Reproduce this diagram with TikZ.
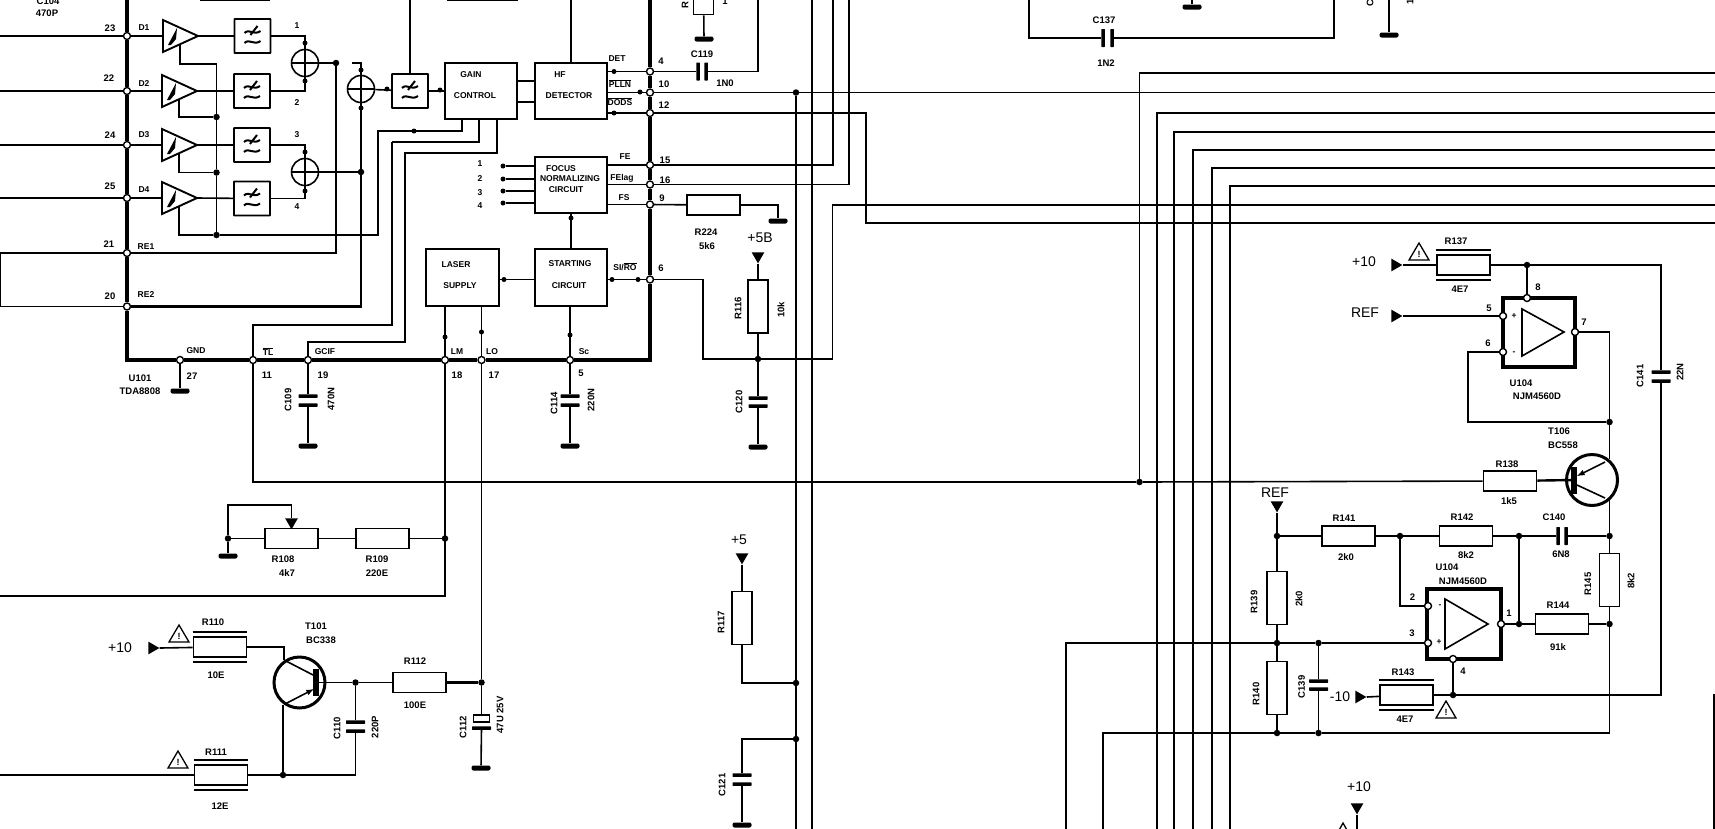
\documentclass[tikz,border=0pt]{standalone}
\usepackage{fontspec}
\setmainfont{Liberation Sans}
\usetikzlibrary{shapes.geometric}
\tikzset{
  wire/.style={line width=1.6pt},
  heavy/.style={line width=2.4pt},
  bus/.style={line width=4pt},
  pad/.style={circle, draw, fill=white, line width=1.4pt, minimum size=7pt, inner sep=0pt},
  jn/.style={circle, fill, minimum size=6.5pt, inner sep=0pt},
  tick/.style={circle, fill, minimum size=5pt, inner sep=0pt},
  res/.style={draw, line width=1.6pt, minimum width=53pt, minimum height=20pt, inner sep=0pt},
  resv/.style={draw, line width=1.6pt, minimum width=20pt, minimum height=53pt, inner sep=0pt},
  plh/.style={fill, rounded corners=.5pt, minimum width=19pt, minimum height=3.5pt, inner sep=0pt},
  plv/.style={fill, rounded corners=.5pt, minimum width=3.5pt, minimum height=18pt, inner sep=0pt},
  gnd/.style={fill, rounded corners=2pt, minimum width=19pt, minimum height=5pt, inner sep=0pt},
  block/.style={draw, line width=1.8pt, minimum width=72pt, minimum height=56pt, inner sep=0pt},
  opbox/.style={draw, line width=3.6pt, inner sep=0pt},
  sum/.style={circle, draw, line width=1.6pt, minimum size=27pt, inner sep=0pt,
    path picture={\draw[line width=1.6pt]
      (path picture bounding box.north) -- (path picture bounding box.south)
      (path picture bounding box.west) -- (path picture bounding box.east);}},
  tr/.style={circle, draw, line width=3pt, minimum size=51pt, inner sep=0pt},
  tbar/.style={fill, minimum width=6pt, minimum height=27pt, inner sep=0pt},
  tdown/.style={isosceles triangle, isosceles triangle apex angle=60, shape border rotate=-90, fill, minimum size=11pt, inner sep=0pt},
  tright/.style={isosceles triangle, isosceles triangle apex angle=60, shape border rotate=0, fill, minimum size=11pt, inner sep=0pt},
  lab/.style={inner sep=0pt, font=\fontsize{9.5}{10}\selectfont\bfseries},
  sml/.style={inner sep=0pt, font=\fontsize{8.5}{9}\selectfont\bfseries},
  big/.style={inner sep=0pt, font=\fontsize{14}{15}\selectfont},
  lv/.style={lab, rotate=90},
  amp/.pic={
    \draw[line width=1.9pt] (-17,-16) -- (-17,16) -- (18,0) -- cycle;
    \fill (-12,9) -- (-3,-8) -- (-4,3) -- (-9,9) -- cycle;
    \coordinate (-in) at (-17,0);
    \coordinate (-out) at (18,0);
    \coordinate (-bias) at (0,8);
  },
  filt/.pic={
    \node[draw, line width=1.8pt, rounded corners=.5pt, minimum width=36pt, minimum height=34pt, inner sep=0pt] (-box) at (0,0) {};
    \draw[line width=2pt] (-8,-3) .. controls (-3,-8) and (1,0) .. (8,-5);
    \draw[line width=2pt] (-8,7) .. controls (-3,2) and (1,10) .. (8,5);
    \draw[line width=2pt] (5,-10) -- (-2,-1);
  },
  warn/.pic={
    \draw[line width=1.3pt] (0,-9) -- (10,8) -- (-10,8) -- cycle;
    \node[inner sep=0pt, font=\fontsize{9}{9}\selectfont\bfseries] (-mark) at (0,2) {!};
  }
}
\begin{document}
\begin{tikzpicture}[x=1pt, y=-1pt]
  \useasboundingbox (0,0) rectangle (1715,828);
  \clip (0,0) rectangle (1715,828);

  % page edges
  \coordinate (le) at (-2,0);
  \coordinate (re) at (1717,0);
  \coordinate (te) at (0,-2);
  \coordinate (be) at (0,830);

  % pads of U101
  \node[pad] (p23) at (127,36) {};
  \node[pad] (p22) at (127,91) {};
  \node[pad] (p24) at (127,145) {};
  \node[pad] (p25) at (127,198) {};
  \node[pad] (p21) at (127,253) {};
  \node[pad] (p20) at (127,306.5) {};
  \node[pad] (p27) at (180,360) {};
  \node[pad] (p11) at (253,360) {};
  \node[pad] (p19) at (308,360) {};
  \node[pad] (p18) at (445,360) {};
  \node[pad] (p17) at (481.5,360) {};
  \node[pad] (p5) at (570,360) {};
  \node[pad] (p6) at (650,279.5) {};
  \node[pad] (p9) at (650,204.5) {};
  \node[pad] (p16) at (650,184.5) {};
  \node[pad] (p15) at (650,165) {};
  \node[pad] (p12) at (650,113) {};
  \node[pad] (p10) at (650,92.5) {};
  \node[pad] (p4) at (650,71.5) {};

  \coordinate (lt) at (127,-3);
  \coordinate (lb) at (127,360);
  \coordinate (rb) at (650,360);
  \coordinate (rt) at (650,-3);
  \draw[bus] (lt) -- (p23) -- (p22) -- (p24) -- (p25) -- (p21) -- (p20) -- (lb)
    -- (p27) -- (p11) -- (p19) -- (p18) -- (p17) -- (p5) -- (rb)
    -- (p6) -- (p9) -- (p16) -- (p15) -- (p12) -- (p10) -- (p4) -- (rt);

  % amplifiers and filters
  \pic (a1) at (180,36) {amp};
  \pic (a2) at (179,91) {amp};
  \pic (a3) at (179,145) {amp};
  \pic (a4) at (179,198) {amp};
  \pic (f1) at (252.5,36) {filt};
  \pic (f2) at (252,91) {filt};
  \pic (f3) at (252,145) {filt};
  \pic (f4) at (252,198.5) {filt};
  \pic (f5) at (410,91) {filt};
  \node[sum] (s1) at (305,63) {};
  \node[sum] (s3) at (305,172) {};
  \node[sum] (s2) at (361,89) {};

  \draw[heavy] (p23) -- (p23 -| le);
  \draw[wire] (p22) -- (p22 -| le);
  \draw[wire] (p24) -- (p24 -| le);
  \draw[wire] (p25) -- (p25 -| le);
  \draw[heavy] (p23) -- (a1-in);
  \draw[wire] (p22) -- (a2-in);
  \draw[wire] (p24) -- (a3-in);
  \draw[wire] (p25) -- (a4-in);
  \draw[wire] (a1-out) -- (f1-box);
  \draw[wire] (a2-out) -- (f2-box);
  \draw[heavy] (a3-out) -- (f3-box);
  \draw[wire] (a4-out) -- (f4-box);
  \draw[heavy] (f1-box) -| (s1);
  \draw[wire] (f2-box) -| (s1);
  \draw[wire] (f3-box) -| (s3);
  \draw[wire] (f4-box) -| (s3);

  \node[jn] (j2) at (216.5,117) {};
  \node[jn] (j3) at (216.5,172.5) {};
  \node[jn] (j4) at (216.5,235) {};
  \node[jn] (d1) at (336,63) {};
  \node[jn] (d2) at (361,172) {};
  \coordinate (jt) at (216.5,64);
  \coordinate (st) at (352,63);
  \coordinate (lv1) at (0.5,253);
  \coordinate (lv2) at (0.5,306.5);
  \draw[wire] (a1-bias) |- (jt) -- (j2) -- (j3) -- (j4);
  \draw[wire] (a2-bias) |- (j2);
  \draw[wire] (a3-bias) |- (j3);
  \draw[wire] (a4-bias) |- (j4);
  \draw[wire] (s1) -- (d1);
  \draw[wire] (s3) -- (d2);
  \draw[heavy] (p21) -| (d1);
  \draw[wire] (p21) -- (p21 -| le);
  \draw[heavy] (p20) -| (s2);
  \draw[wire] (p20) -- (p20 -| le);
  \draw[wire] (lv1) -- (lv2);
  \draw[wire] (st) -| (s2);

  % blocks
  \node[block] (gain) at (481,91) {};
  \node[block] (hf) at (571,91) {};
  \node[block] (focus) at (571,185) {};
  \node[block, minimum height=57pt] (start) at (571,277.5) {};
  \node[block, minimum width=73pt, minimum height=57pt] (laser) at (462.5,277.5) {};
  \coordinate (gs1) at (462,119);
  \coordinate (gs2) at (479,119);
  \coordinate (gs3) at (497,119);
  \coordinate (ca) at (378,131);
  \coordinate (cb) at (392,142);
  \coordinate (cd) at (405,153);
  \coordinate (tlt) at (253,325);
  \coordinate (gt) at (308,342);
  \draw[wire] (s2) -- (f5-box);
  \draw[wire] (f5-box) -- (gain);
  \draw[wire] (f5-box.north) -- (f5-box.north |- te);
  \draw[wire] (j4) -| (ca) -| (gs1);
  \draw[heavy] (gs2) |- (cb);
  \draw[wire] (cb) |- (tlt) -- (p11);
  \draw[wire] (gs3) |- (cd) |- (gt) -- (p19);
  \draw[wire] ([yshift=10pt]gain.east) -- ([yshift=10pt]gain.east -| hf.west);
  \draw[wire] ([yshift=-11pt]gain.east) -- ([yshift=-11pt]gain.east -| hf.west);
  \draw[wire] (hf.north) -- (hf.north |- te);
  \draw[wire] (p4) -- (p4 -| hf.east);
  \draw[wire] (p10) -- (p10 -| hf.east);
  \draw[wire] (p12) -- (p12 -| hf.east);
  \draw[wire] (p15) -- (p15 -| focus.east);
  \draw[wire] (p16) -- (p16 -| focus.east);
  \draw[wire] (p9) -- (p9 -| focus.east);
  \draw[wire] (p6) -- (p6 -| start.east);
  \draw[wire] (p6 -| start.west) -- (p6 -| laser.east);
  \draw[wire] (start) -- (focus);
  \draw[wire] (p5 |- start.south) -- (p5);
  \draw[wire] (p18 |- laser.south) -- (p18);
  \draw[wire] (p17 |- laser.south) -- (p17);

  \node[tick] (i1) at (503,166) {};
  \node[tick] (i2) at (503,179) {};
  \node[tick] (i3) at (503,191) {};
  \node[tick] (i4) at (503,203) {};
  \draw[wire] (i1) -- (i1 -| focus.west);
  \draw[wire] (i2) -- (i2 -| focus.west);
  \draw[wire] (i3) -- (i3 -| focus.west);
  \draw[wire] (i4) -- (i4 -| focus.west);

  % arrow blobs on wires
  \node[tick] (k1) at (305,43) {};
  \node[tick] (k2) at (305,81) {};
  \node[tick] (k3) at (305,152) {};
  \node[tick] (k4) at (305,191) {};
  \node[tick] (k5) at (361,70) {};
  \node[tick] (k6) at (361,108) {};
  \node[tick] (k7) at (387,89) {};
  \node[tick] (k8) at (440,90) {};
  \node[tick] (k9) at (414,131) {};
  \node[tick] (k10) at (614,71.5) {};
  \node[tick] (k11) at (640,92) {};
  \node[tick] (k12) at (614,113) {};
  \node[tick] (k13) at (612,279.5) {};
  \node[tick] (k14) at (638,279.5) {};
  \node[tick] (k15) at (504,279.5) {};
  \node[tick] (k16) at (571,218) {};
  \node[tick] (k17) at (445,337) {};
  \node[tick] (k18) at (481.5,332) {};
  \node[tick] (k19) at (570,335) {};

  % pins along the bottom
  \node[gnd] (g27) at (180,391) {};
  \node[gnd] (g109) at (308,446) {};
  \node[gnd] (g114) at (570,446) {};
  \node[plh] (c109a) at (308,396) {};
  \node[plh] (c109b) at (308,405) {};
  \node[plh] (c114a) at (570,396) {};
  \node[plh] (c114b) at (570,405) {};
  \draw[wire] (p27) -- (g27);
  \draw[wire] (p19) -- (c109a);
  \draw[wire] (c109b) -- (g109);
  \draw[wire] (p5) -- (c114a);
  \draw[wire] (c114b) -- (g114);

  % right hand side of U101
  \node[plv] (c119a) at (698,71.5) {};
  \node[plv] (c119b) at (706,71.5) {};
  \coordinate (c758) at (758,-2);
  \draw[wire] (p4) -- (c119a);
  \draw[wire] (c119b) -| (c758);
  \node[resv] (rtop) at (703.5,-12) {};
  \node[gnd] (gtop) at (704,39) {};
  \draw[wire] (rtop) -- (gtop);

  \node[jn] (d796) at (796,92.5) {};
  \node[jn] (d796a) at (796,683) {};
  \node[jn] (d796b) at (796,739) {};
  \coordinate (c812) at (812,-2);
  \coordinate (c833) at (833,-2);
  \coordinate (c849) at (849,-2);
  \coordinate (c866) at (866,223);
  \coordinate (cj) at (832.5,205);
  \draw[wire] (p10) -- (p10 -| re);
  \draw[wire] (d796) -- (d796 |- be);
  \draw[wire] (c812) -- (c812 |- be);
  \draw[wire] (p15) -| (c833);
  \draw[wire] (p16) -| (c849);
  \draw[wire] (p12) -| (c866) -- (c866 -| re);

  \node[res] (r224) at (713.5,205) {};
  \node[gnd] (g224) at (778,221) {};
  \draw[wire] (p9) -- (r224);
  \draw[wire] (r224) -| (g224);

  \node[tdown] (v58) at (758,256) {};
  \node[resv] (r116) at (758,306.5) {};
  \node[jn] (d116) at (758,359) {};
  \node[plh] (c120a) at (758,398) {};
  \node[plh] (c120b) at (758,406) {};
  \node[gnd] (g120) at (758,447) {};
  \coordinate (cc) at (703,359);
  \draw[wire] (p6) -| (cc) -- (d116);
  \draw[wire] (d116) -| (cj) -- (cj -| re);
  \draw[wire] (v58.apex) -- (r116);
  \draw[wire] (r116) -- (d116);
  \draw[wire] (d116) -- (c120a);
  \draw[wire] (c120b) -- (g120);

  % R117, C121
  \node[tdown] (v5) at (742,557) {};
  \node[resv] (r117) at (742,618) {};
  \node[plh] (c121a) at (742,775) {};
  \node[plh] (c121b) at (742,784) {};
  \node[gnd] (g121) at (742,825) {};
  \draw[wire] (v5.apex) -- (r117);
  \draw[wire] (r117) |- (d796a);
  \draw[wire] (d796b) -| (c121a);
  \draw[wire] (c121b) -- (g121);

  % C137 loop and the top of the sheet
  \coordinate (b1) at (1029,-2);
  \coordinate (b2) at (1334,-2);
  \node[plv] (c137a) at (1103,38) {};
  \node[plv] (c137b) at (1112,38) {};
  \draw[wire] (b1) |- (c137a);
  \draw[wire] (c137b) -| (b2);
  \node[gnd] (g137) at (1192,7) {};
  \coordinate (g137t) at (1192,-2);
  \draw[wire] (g137t) -- (g137);
  \node[gnd] (g138) at (1389,35) {};
  \coordinate (g138t) at (1389,-2);
  \draw[wire] (g138t) -- (g138);
  \coordinate (m1) at (200,0);
  \coordinate (m2) at (270,0);
  \coordinate (m3) at (447,0);
  \coordinate (m4) at (518,0);
  \draw[heavy] (m1) -- (m2);
  \draw[heavy] (m3) -- (m4);

  % bundle on the right
  \node[jn] (d1139) at (1139.5,482) {};
  \coordinate (w1) at (1139.5,73);
  \coordinate (w2) at (1157,113);
  \coordinate (w3) at (1174,132);
  \coordinate (w4) at (1193,150);
  \coordinate (w5) at (1212,168);
  \coordinate (w6) at (1230,186);
  \draw[wire] (d1139) -- (w1) -- (w1 -| re);
  \draw[wire] (w2 |- be) -- (w2) -- (w2 -| re);
  \draw[wire] (w3 |- be) -- (w3) -- (w3 -| re);
  \draw[wire] (w4 |- be) -- (w4) -- (w4 -| re);
  \draw[wire] (w5 |- be) -- (w5) -- (w5 -| re);
  \draw[wire] (w6 |- be) -- (w6) -- (w6 -| re);

  % R108, R109
  \node[jn] (d228) at (228,538.5) {};
  \node[jn] (d445) at (445,538.5) {};
  \node[gnd] (g108) at (228,556) {};
  \node[res] (r108) at (291.5,538.5) {};
  \node[res] (r109) at (382.5,538.5) {};
  \node[tdown] (wip) at (291.5,522) {};
  \coordinate (wa) at (291.5,505);
  \coordinate (lg) at (-2,596);
  \draw[wire] (p18) |- (lg);
  \draw[wire] (d228) -- (g108);
  \draw[wire] (d228) -- (r108);
  \draw[wire] (r108) -- (r109);
  \draw[wire] (r109) -- (d445);
  \draw[wire] (d228) |- (wa) -- (wip);

  % T101
  \node[tright] (v10c) at (152,648) {};
  \node[res] (r110) at (220,647) {};
  \node[res] (r111) at (221,775) {};
  \node[res] (r112) at (419.5,682.5) {};
  \node[tr] (t101) at (299.5,682.5) {};
  \node[tbar] (t101b) at (316,682.5) {};
  \node[jn] (d356) at (355.5,682.5) {};
  \node[jn] (d283) at (283,775) {};
  \node[jn] (d481) at (481.5,682.5) {};
  \node[plh] (c110a) at (355.5,722) {};
  \node[plh] (c110b) at (355.5,731) {};
  \node[draw, fill=white, line width=1.3pt, minimum width=16pt, minimum height=7pt, inner sep=0pt] (c112a) at (481.5,718.5) {};
  \node[plh] (c112b) at (481.5,728) {};
  \node[gnd] (g112) at (481,768) {};
  \coordinate (t1c) at (284,660);
  \coordinate (t1e) at (283,705);
  \coordinate (t1ci) at (286,661);
  \coordinate (t1cb) at (315,676);
  \coordinate (t1eo) at (285,704);
  \coordinate (t1eb) at (314,689);
  \draw[wire] (v10c.apex) -- (r110);
  \draw[wire] (r110) -| (t1c);
  \draw[wire] (t1ci) -- (t1cb);
  \draw[wire, -latex] (t1eo) -- (t1eb);
  \draw[wire] (t1e) -- (d283);
  \draw[wire] (t101b) -- (d356);
  \draw[wire] (d356) -- (r112);
  \draw[heavy] (r112) -- (d481);
  \draw[wire] (d356) -- (c110a);
  \draw[wire] (c110b) |- (d283);
  \draw[wire] (r111) -- (d283);
  \draw[wire] (r111) -- (r111 -| le);
  \draw[wire] (p17) -- (d481);
  \draw[wire] (d481) -- (c112a);
  \draw[wire] (c112b) -- (g112);
  \draw[wire] (p11) |- (d1139);
  \draw[wire] ([yshift=4pt]r110.north west) -- ([yshift=4pt]r110.north east);
  \draw[wire] ([yshift=-4pt]r110.south west) -- ([yshift=-4pt]r110.south east);
  \draw[wire] ([yshift=4pt]r111.north west) -- ([yshift=4pt]r111.north east);
  \draw[wire] ([yshift=-4pt]r111.south west) -- ([yshift=-4pt]r111.south east);
  \pic (w110) at (179,634) {warn};
  \pic (w111) at (178,760) {warn};

  % upper U104
  \node[opbox, minimum width=72pt, minimum height=69pt] (u104a) at (1539,332.5) {};
  \draw[wire] (1522,309) -- (1522,356) -- (1564,332) -- cycle;
  \node[pad] (pa8) at (1527,298) {};
  \node[pad] (pa5) at (1503,316) {};
  \node[pad] (pa6) at (1503,352) {};
  \node[pad] (pa7) at (1575,332) {};
  \node[tright] (v10a) at (1395,265) {};
  \node[tright] (vrefa) at (1395,316) {};
  \node[res] (r137) at (1463.5,265) {};
  \node[jn] (d1528) at (1527,265) {};
  \node[jn] (d1609) at (1609.5,422) {};
  \node[plh] (c141a) at (1661,372) {};
  \node[plh] (c141b) at (1661,381) {};
  \coordinate (co) at (1468,422);
  \coordinate (tt) at (1609.5,459);
  \draw[wire] (v10a.apex) -- (r137);
  \draw[wire] (r137) -- (d1528);
  \draw[wire] (d1528) -- (pa8);
  \draw[wire] (d1528) -| (c141a);
  \draw[wire] (vrefa.apex) -- (pa5);
  \draw[wire] (pa6) -| (co) -- (d1609);
  \draw[wire] (pa7) -| (d1609);
  \draw[wire] (d1609) -- (tt);
  \draw[wire] ([yshift=4pt]r137.north west) -- ([yshift=4pt]r137.north east);
  \draw[wire] ([yshift=-4pt]r137.south west) -- ([yshift=-4pt]r137.south east);
  \pic (w137) at (1419,252) {warn};

  % T106
  \node[tr] (t106) at (1592,480) {};
  \node[tbar] (t106b) at (1574,480) {};
  \node[res] (r138) at (1510,481) {};
  \coordinate (t6ei) at (1605,462);
  \coordinate (t6eb) at (1577,476);
  \coordinate (t6ci) at (1577,485);
  \coordinate (t6co) at (1605,498);
  \coordinate (tb) at (1609.5,500);
  \draw[wire, -latex] (t6ei) -- (t6eb);
  \draw[wire] (t6ci) -- (t6co);
  \draw[wire] (d1139) -- (r138);
  \draw[heavy] (r138) -- (t106b);

  % lower U104
  \node[opbox, minimum width=74pt, minimum height=70pt] (u104b) at (1464,624) {};
  \draw[wire] (1445,599) -- (1445,649) -- (1488,624) -- cycle;
  \node[pad] (pb2) at (1428,606) {};
  \node[pad] (pb3) at (1428,643) {};
  \node[pad] (pb1) at (1501,624) {};
  \node[pad] (pb4) at (1453,659) {};
  \node[tdown] (vrefb) at (1277,505) {};
  \node[jn] (d1277) at (1277,536) {};
  \node[jn] (d1400) at (1400,536) {};
  \node[jn] (d1519) at (1519,536) {};
  \node[jn] (d1610) at (1609.5,536) {};
  \node[jn] (d1519b) at (1519,624) {};
  \node[jn] (d1609b) at (1609.5,624) {};
  \node[jn] (d1276) at (1277,643) {};
  \node[jn] (d1318) at (1318.5,643) {};
  \node[jn] (d1276b) at (1277,733) {};
  \node[jn] (d1318b) at (1318.5,733) {};
  \node[jn] (d1453) at (1453,695) {};
  \node[res] (r141) at (1348.5,536) {};
  \node[res] (r142) at (1466,536) {};
  \node[res] (r144) at (1562,624) {};
  \node[res] (r143) at (1406.5,695) {};
  \node[resv] (r145) at (1609.5,580) {};
  \node[resv] (r139) at (1277,598) {};
  \node[resv] (r140) at (1277,688) {};
  \node[plv] (c140a) at (1558,536) {};
  \node[plv] (c140b) at (1566,536) {};
  \node[plh] (c139a) at (1318.5,681) {};
  \node[plh] (c139b) at (1318.5,689) {};
  \node[tright] (vm10) at (1359,697) {};
  \coordinate (k643) at (1066,643);
  \coordinate (k733) at (1103,733);
  \coordinate (cw) at (1609.5,733);
  \draw[wire] (vrefb.apex) -- (d1277);
  \draw[wire] (d1277) -- (r141);
  \draw[heavy] (r141) -- (d1400);
  \draw[wire] (d1400) -- (r142);
  \draw[wire] (r142) -- (d1519);
  \draw[wire] (d1519) -- (c140a);
  \draw[heavy] (c140b) -- (d1610);
  \draw[wire] (tb) -- (d1610);
  \draw[wire] (d1610) -- (r145);
  \draw[wire] (r145) -- (d1609b);
  \draw[wire] (d1609b) -- (cw);
  \draw[wire] (k733 |- be) -- (k733) -- (d1276b);
  \draw[wire] (d1276b) -- (d1318b);
  \draw[wire] (d1318b) -- (cw);
  \draw[wire] (d1400) |- (pb2);
  \draw[wire] (d1519) -- (d1519b);
  \draw[wire] (pb1) -- (d1519b);
  \draw[wire] (d1519b) -- (r144);
  \draw[wire] (r144) -- (d1609b);
  \draw[wire] (d1277) -- (r139);
  \draw[wire] (r139) -- (d1276);
  \draw[wire] (d1276) -- (r140);
  \draw[wire] (r140) -- (d1276b);
  \draw[wire] (k643 |- be) -- (k643) -- (d1276);
  \draw[wire] (d1276) -- (d1318);
  \draw[wire] (d1318) -- (pb3);
  \draw[wire] (d1318) -- (c139a);
  \draw[wire] (c139b) -- (d1318b);
  \draw[wire] (vm10.apex) -- (r143);
  \draw[wire] (r143) -- (d1453);
  \draw[wire] (d1453) -- (pb4);
  \draw[wire] (c141b) |- (d1453);
  \draw[wire] ([yshift=4pt]r143.north west) -- ([yshift=4pt]r143.north east);
  \draw[wire] ([yshift=-4pt]r143.south west) -- ([yshift=-4pt]r143.south east);
  \pic (w143) at (1446,710) {warn};

  % bottom right corner
  \node[tdown] (v10b) at (1357,807) {};
  \draw[wire] (v10b.apex) -- (v10b.apex |- be);
  \draw[line width=1.3pt] (1338,832) -- (1343,823) -- (1348,832);
  \coordinate (ez) at (1714,694);
  \draw[heavy] (ez) -- (ez |- be);

  % labels of U101
  \node[lab] (tc104) at (48,1) {C104};
  \node[lab] (t470p) at (47,13) {470P};
  \node[lab] (t23) at (110,28) {23};
  \node[lab] (t22) at (109,78) {22};
  \node[lab] (t24) at (110,135) {24};
  \node[lab] (t25) at (110,186) {25};
  \node[lab] (t21) at (109,244) {21};
  \node[lab] (t20) at (110,296) {20};
  \node[sml] (td1) at (144,28) {D1};
  \node[sml] (td2) at (144,84) {D2};
  \node[sml] (td3) at (144,135) {D3};
  \node[sml] (td4) at (144,190) {D4};
  \node[sml] (tre1) at (146,247) {RE1};
  \node[sml] (tre2) at (146,295) {RE2};
  \node[sml] (tn1) at (297,26) {1};
  \node[sml] (tn2) at (297,103) {2};
  \node[sml] (tn3) at (297,135) {3};
  \node[sml] (tn4) at (297,207) {4};
  \node[sml] (tgain) at (471,75) {GAIN};
  \node[sml] (tcontrol) at (475,96) {CONTROL};
  \node[sml] (thf) at (560,75) {HF};
  \node[sml] (tdetector) at (569,96) {DETECTOR};
  \node[sml] (tfocus) at (561,169) {FOCUS};
  \node[sml] (tnorm) at (570,179) {NORMALIZING};
  \node[sml] (tcirc) at (566,190) {CIRCUIT};
  \node[sml] (tlaser) at (456,265) {LASER};
  \node[sml] (tsupply) at (460,286) {SUPPLY};
  \node[sml] (tstart) at (570,264) {STARTING};
  \node[sml] (tcirc2) at (569,286) {CIRCUIT};
  \node[sml] (tdet) at (617,59) {DET};
  \node[sml] (tplln) at (620,84) {$\overline{\mbox{PLLN}}$};
  \node[sml] (tdods) at (620,102) {$\overline{\mbox{DODS}}$};
  \node[sml] (tfe) at (625,157) {FE};
  \node[sml] (tfelag) at (622,178) {FElag};
  \node[sml] (tfs) at (624,198) {FS};
  \node[sml] (tsi) at (625,267) {SI/$\overline{\mbox{RO}}$};
  \node[sml] (ti1) at (480,164) {1};
  \node[sml] (ti2) at (480,179) {2};
  \node[sml] (ti3) at (480,193) {3};
  \node[sml] (ti4) at (480,206) {4};
  \node[lab] (t4) at (661,61) {4};
  \node[lab] (t10) at (664,84) {10};
  \node[lab] (t12) at (664,105) {12};
  \node[lab] (t15) at (665,160) {15};
  \node[lab] (t16) at (665,180) {16};
  \node[lab] (t9) at (662,198) {9};
  \node[lab] (t6) at (661,268) {6};
  \node[sml] (tgnd) at (196,351) {GND};
  \node[lab] (t27) at (192,376) {27};
  \node[lab] (tu101) at (140,378) {U101};
  \node[lab] (ttda) at (140,391) {TDA8808};
  \node[sml] (ttl) at (268,352) {$\overline{\mbox{TL}}$};
  \node[sml] (tgcif) at (325,352) {GCIF};
  \node[lab] (t11) at (267,375) {11};
  \node[lab] (t19) at (323,375) {19};
  \node[sml] (tlm) at (457,352) {LM};
  \node[sml] (tlo) at (492,352) {LO};
  \node[lab] (t18) at (457,375) {18};
  \node[lab] (t17) at (494,375) {17};
  \node[sml] (tsc) at (584,352) {Sc};
  \node[lab] (t5) at (581,373) {5};
  \node[lv] (tc109) at (288,400) {C109};
  \node[lv] (t470n) at (331,399) {470N};
  \node[lv] (tc114) at (554,403) {C114};
  \node[lv] (t220n) at (591,400) {220N};
  \node[lab] (tc119) at (702,54) {C119};
  \node[lab] (t1n0) at (725,83) {1N0};
  \node[lab] (tr224) at (706,232) {R224};
  \node[lab] (t5k6) at (707,246) {5k6};
  \node[big] (t58) at (760,238) {+5B};
  \node[lv] (tr116) at (738,308) {R116};
  \node[lv] (t10k) at (781,310) {10k};
  \node[lv] (tc120) at (739,402) {C120};
  \node[lv] (trt) at (685,5) {R};
  \node[lab] (tone) at (725,1) {1};
  \node[big] (t5b) at (739,540) {+5};
  \node[lv] (tr117) at (721,622) {R117};
  \node[lv] (tc121) at (722,785) {C121};
  \node[lab] (tc137) at (1104,20) {C137};
  \node[lab] (t1n2) at (1106,63) {1N2};
  \node[lv] (tcc) at (1370,3) {C};
  \node[lv] (tonb) at (1410,2) {1};

  % labels of the lower left part
  \node[lab] (tr108) at (283,559) {R108};
  \node[lab] (t4k7) at (287,573) {4k7};
  \node[lab] (tr109) at (377,559) {R109};
  \node[lab] (t220e) at (377,573) {220E};
  \node[big] (tp10) at (120,648) {+10};
  \node[lab] (tr110) at (213,622) {R110};
  \node[lab] (t10e) at (216,675) {10E};
  \node[lab] (tr111) at (216,752) {R111};
  \node[lab] (t12e) at (220,806) {12E};
  \node[lab] (tt101) at (316,626) {T101};
  \node[lab] (tbc338) at (321,640) {BC338};
  \node[lab] (tr112) at (415,661) {R112};
  \node[lab] (t100e) at (415,705) {100E};
  \node[lv] (tc110) at (337,728) {C110};
  \node[lv] (t220p) at (375,727) {220P};
  \node[lv] (tc112) at (463,727) {C112};
  \node[lv] (t47u) at (500,715) {47U 25V};

  % labels of the right part
  \node[big] (tp10a) at (1364,262) {+10};
  \node[big] (tref) at (1365,313) {REF};
  \node[lab] (tr137) at (1456,241) {R137};
  \node[lab] (t4e7) at (1460,289) {4E7};
  \node[lab] (t8) at (1538,287) {8};
  \node[lab] (t5a) at (1489,308) {5};
  \node[lab] (t6a) at (1488,343) {6};
  \node[lab] (t7) at (1584,322) {7};
  \node[sml] (tpa) at (1514,316) {+};
  \node[sml] (tma) at (1514,353) {-};
  \node[lab] (tu104) at (1521,383) {U104};
  \node[lab] (tnjm) at (1537,396) {NJM4560D};
  \node[lv] (tc141) at (1640,376) {C141};
  \node[lv] (t22n) at (1680,372) {22N};
  \node[lab] (tt106) at (1559,431) {T106};
  \node[lab] (tbc558) at (1563,445) {BC558};
  \node[lab] (tr138) at (1507,464) {R138};
  \node[lab] (t1k5) at (1509,501) {1k5};
  \node[big] (trefb) at (1275,493) {REF};
  \node[lab] (tr141) at (1344,518) {R141};
  \node[lab] (t2k0) at (1346,557) {2k0};
  \node[lab] (tr142) at (1462,517) {R142};
  \node[lab] (t8k2) at (1466,555) {8k2};
  \node[lab] (tc140) at (1554,517) {C140};
  \node[lab] (t6n8) at (1561,554) {6N8};
  \node[lab] (tu104b) at (1447,567) {U104};
  \node[lab] (tnjmb) at (1463,581) {NJM4560D};
  \node[lab] (t2) at (1412.5,597) {2};
  \node[lab] (t3) at (1412,633) {3};
  \node[lab] (t1) at (1509,613) {1};
  \node[lab] (t4b) at (1463,671) {4};
  \node[sml] (tmb) at (1440,606) {-};
  \node[sml] (tpb) at (1439,642) {+};
  \node[lab] (tr144) at (1558,605) {R144};
  \node[lab] (t91k) at (1558,647) {91k};
  \node[lv] (tr145) at (1588,584) {R145};
  \node[lv] (t8k2b) at (1631,581) {8k2};
  \node[lv] (tr139) at (1254,602) {R139};
  \node[lv] (t2k0b) at (1299,599) {2k0};
  \node[lv] (tr140) at (1256,694) {R140};
  \node[lv] (tc139) at (1301.5,687) {C139};
  \node[big] (tm10) at (1340,697) {-10};
  \node[lab] (tr143) at (1403,672) {R143};
  \node[lab] (t4e7b) at (1405,719) {4E7};
  \node[big] (tp10b) at (1359,787) {+10};
\end{tikzpicture}
\end{document}
